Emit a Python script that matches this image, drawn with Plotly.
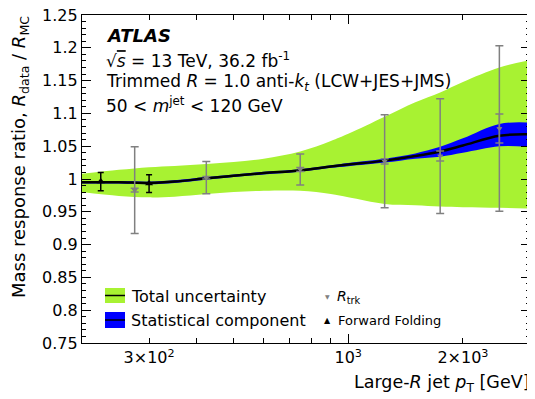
import numpy as np
import plotly.graph_objects as go

# ---------------- data ----------------
pt_nodes = [200, 250, 300, 350, 424, 500, 600, 748, 900, 1000, 1246, 1500, 1743, 2000, 2493, 3000]
central = [0.995, 0.995, 0.994, 0.996, 1.001, 1.005, 1.009, 1.013, 1.019, 1.022, 1.028, 1.035, 1.042, 1.051, 1.066, 1.068]
tot_up = [1.008, 1.014, 1.018, 1.020, 1.023, 1.026, 1.031, 1.042, 1.058, 1.069, 1.095, 1.117, 1.132, 1.148, 1.170, 1.181]
tot_lo = [0.980, 0.974, 0.972, 0.973, 0.977, 0.980, 0.982, 0.982, 0.977, 0.972, 0.962, 0.960, 0.958, 0.957, 0.956, 0.955]
stat_up = [0.997, 0.997, 0.996, 0.998, 1.003, 1.007, 1.011, 1.015, 1.021, 1.0245, 1.031, 1.039, 1.049, 1.062, 1.084, 1.086]
stat_lo = [0.993, 0.993, 0.992, 0.994, 0.999, 1.003, 1.007, 1.011, 1.017, 1.0195, 1.025, 1.031, 1.034, 1.040, 1.050, 1.049]

rtrk_pt = [275, 424, 748, 1246, 1743, 2493]
rtrk_val = [0.983, 1.002, 1.0145, 1.027, 1.035, 1.077]
rtrk_tot = [0.066, 0.0245, 0.0235, 0.071, 0.0875, 0.126]
rtrk_stat = [0.003, 0.002, 0.003, 0.004, 0.0075, 0.022]

ff_pt = [224, 300]
ff_val = [0.996, 0.993]
ff_err = [0.014, 0.0135]

y_tickvals = [0.75, 0.8, 0.85, 0.9, 0.95, 1.0, 1.05, 1.1, 1.15, 1.2, 1.25]
y_ticktext = ["0.75", "0.8", "0.85", "0.9", "0.95", "1", "1.05", "1.1", "1.15", "1.2", "1.25"]
x_tickvals = [300, 1000, 2000]
x_ticktext = ["3×10<sup>2</sup>", "10<sup>3</sup>", "2×10<sup>3</sup>"]
x_minor = [200, 400, 500, 600, 700, 800, 900, 3000]

GREEN = "#a8f232"
BLUE = "#0000ff"
GRAY = "#808080"
FONT = "DejaVu Sans"

fig = go.Figure()
# total uncertainty band
fig.add_trace(go.Scatter(x=pt_nodes, y=tot_lo, mode="lines", line=dict(width=0, shape="spline"),
                         showlegend=False, hoverinfo="skip"))
fig.add_trace(go.Scatter(x=pt_nodes, y=tot_up, mode="lines", line=dict(width=0, shape="spline"),
                         fill="tonexty", fillcolor=GREEN, showlegend=False, hoverinfo="skip"))
# statistical band
fig.add_trace(go.Scatter(x=pt_nodes, y=stat_lo, mode="lines", line=dict(width=0, shape="spline"),
                         showlegend=False, hoverinfo="skip"))
fig.add_trace(go.Scatter(x=pt_nodes, y=stat_up, mode="lines", line=dict(width=0, shape="spline"),
                         fill="tonexty", fillcolor=BLUE, showlegend=False, hoverinfo="skip"))
# central value
fig.add_trace(go.Scatter(x=pt_nodes, y=central, mode="lines", line=dict(width=2.5, color="black", shape="spline"),
                         showlegend=False))
# Rtrk points (total and stat error bars)
fig.add_trace(go.Scatter(x=rtrk_pt, y=rtrk_val, mode="markers",
                         marker=dict(symbol="triangle-down", size=5, color=GRAY),
                         error_y=dict(type="data", array=rtrk_tot, color=GRAY, thickness=1.5, width=4),
                         showlegend=False))
fig.add_trace(go.Scatter(x=rtrk_pt, y=rtrk_val, mode="markers",
                         marker=dict(symbol="triangle-down", size=5, color=GRAY),
                         error_y=dict(type="data", array=rtrk_stat, color=GRAY, thickness=1.5, width=4),
                         showlegend=False))
# Forward folding
fig.add_trace(go.Scatter(x=ff_pt, y=ff_val, mode="markers",
                         marker=dict(symbol="triangle-up", size=7, color="black"),
                         error_y=dict(type="data", array=ff_err, color="black", thickness=1.5, width=3),
                         showlegend=False))

# page body has an 8px margin: figure is drawn from (8, 8) in the window
OFF = 8
W, H = 535 - OFF, 399 - OFF
# desired plot-area edges in window pixels
SL, SR, ST, SB = 82, 530, 15, 343
L, T = SL - OFF, ST - OFF
R, B = W - (SR - OFF), H - (SB - OFF)
pw, ph = SR - SL, SB - ST


def px(x):
    return (x - SL) / pw


def py(y):
    return (SB - y) / ph


fig.update_layout(
    width=W, height=H,
    margin=dict(l=L, r=R, t=T, b=B, autoexpand=False),
    paper_bgcolor="white", plot_bgcolor="white",
    font=dict(family=FONT, size=16, color="black"),
    xaxis=dict(type="log", range=[np.log10(200), np.log10(3000)],
               tickvals=x_tickvals, ticktext=x_ticktext, ticks="inside", ticklen=5,
               tickcolor="black", showline=True, linecolor="black", linewidth=1.2, mirror="ticks",
               showgrid=False, zeroline=False, tickfont=dict(size=16, family=FONT),
               ticklabeloverflow="allow",
               minor=dict(tickvals=x_minor, ticks="inside", ticklen=5, tickcolor="black", showgrid=False)),
    xaxis2=dict(type="log", range=[np.log10(200), np.log10(3000)], overlaying="x",
                tickvals=[1000], ticks="inside", ticklen=9, tickcolor="black",
                showticklabels=False, showgrid=False, zeroline=False, mirror="ticks", showline=False),
    yaxis=dict(range=[0.75, 1.25], tickvals=y_tickvals, ticktext=y_ticktext, ticks="inside",
               ticklen=9, tickcolor="black", showline=True, linecolor="black", linewidth=1.2,
               mirror="ticks", showgrid=False, zeroline=False, tickfont=dict(size=16, family=FONT),
               ticklabeloverflow="allow",
               minor=dict(dtick=0.01, ticks="inside", ticklen=4, tickcolor="black", showgrid=False)),
)
# dummy trace to activate xaxis2
fig.add_trace(go.Scatter(x=[1000], y=[None], xaxis="x2", showlegend=False, hoverinfo="skip"))

ann = []
ann.append(dict(text="<b><i>ATLAS</i></b>", x=px(104), y=py(35), xref="paper", yref="paper",
                xanchor="left", yanchor="middle", showarrow=False, font=dict(size=18)))
ann.append(dict(text="√<span style='text-decoration:overline'><i>s</i></span> = 13 TeV, 36.2 fb<sup>-1</sup>",
                x=px(104), y=py(60), xref="paper", yref="paper",
                xanchor="left", yanchor="middle", showarrow=False, font=dict(size=17)))
ann.append(dict(text="Trimmed <i>R</i> = 1.0 anti-<i>k</i><sub><i>t</i></sub> (LCW+JES+JMS)",
                x=px(104), y=py(83), xref="paper", yref="paper",
                xanchor="left", yanchor="middle", showarrow=False, font=dict(size=17)))
ann.append(dict(text="50 &lt; <i>m</i><sup>jet</sup> &lt; 120 GeV",
                x=px(104), y=py(105), xref="paper", yref="paper",
                xanchor="left", yanchor="middle", showarrow=False, font=dict(size=17)))
# axis titles
ann.append(dict(text="Large-<i>R</i> jet <i>p</i><sub>T</sub> [GeV]", x=px(531), y=py(383),
                xref="paper", yref="paper", xanchor="right", yanchor="middle", showarrow=False,
                font=dict(size=17.5)))
ann.append(dict(text="Mass response ratio, <i>R</i><sub>data</sub> / <i>R</i><sub>MC</sub>",
                x=px(20), y=py(14), xref="paper", yref="paper", xanchor="center", yanchor="top",
                textangle=-90, showarrow=False, font=dict(size=18)))
# legend
ann.append(dict(text="Total uncertainty", x=px(129), y=py(296), xref="paper", yref="paper",
                xanchor="left", yanchor="middle", showarrow=False, font=dict(size=16)))
ann.append(dict(text="Statistical component", x=px(129), y=py(320), xref="paper", yref="paper",
                xanchor="left", yanchor="middle", showarrow=False, font=dict(size=16)))
ann.append(dict(text="▼", x=px(327), y=py(296), xref="paper", yref="paper",
                xanchor="center", yanchor="middle", showarrow=False, font=dict(size=6, color=GRAY)))
ann.append(dict(text="<i>R</i><sub>trk</sub>", x=px(335), y=py(297), xref="paper", yref="paper",
                xanchor="left", yanchor="middle", showarrow=False, font=dict(size=14)))
ann.append(dict(text="▲", x=px(327), y=py(320), xref="paper", yref="paper",
                xanchor="center", yanchor="middle", showarrow=False, font=dict(size=8, color="black")))
ann.append(dict(text="Forward Folding", x=px(336), y=py(320), xref="paper", yref="paper",
                xanchor="left", yanchor="middle", showarrow=False, font=dict(size=13)))
fig.update_layout(annotations=ann)

shapes = []
shapes.append(dict(type="rect", xref="paper", yref="paper", x0=px(105), x1=px(125), y0=py(303), y1=py(288),
                   fillcolor=GREEN, line=dict(width=0)))
shapes.append(dict(type="line", xref="paper", yref="paper", x0=px(105), x1=px(125), y0=py(295.5), y1=py(295.5),
                   line=dict(color="black", width=1.5)))
shapes.append(dict(type="rect", xref="paper", yref="paper", x0=px(105), x1=px(125), y0=py(328), y1=py(312),
                   fillcolor=BLUE, line=dict(width=0)))
shapes.append(dict(type="line", xref="paper", yref="paper", x0=px(105), x1=px(125), y0=py(320), y1=py(320),
                   line=dict(color="black", width=1.5)))
fig.update_layout(shapes=shapes)

fig.write_html("out.html")
